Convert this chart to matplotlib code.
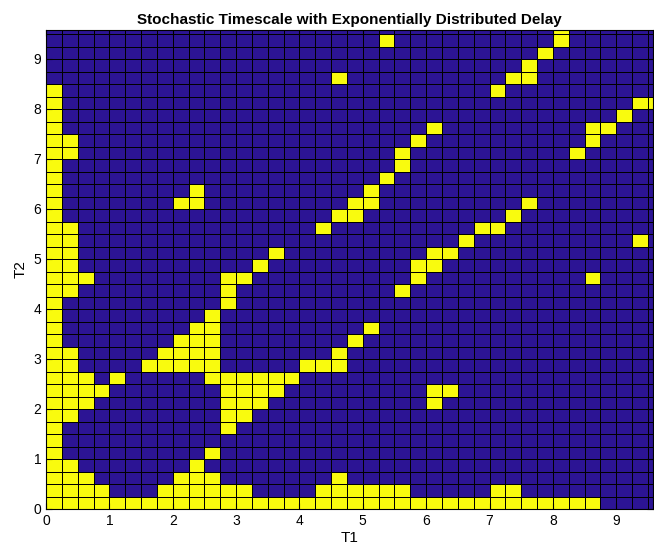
import numpy as np
import matplotlib
matplotlib.use('Agg')
import matplotlib.pyplot as plt
from matplotlib.colors import ListedColormap

plt.rcParams['font.family'] = ['Liberation Sans', 'DejaVu Sans']

# grid step and number of cells along each axis
t_step = 0.25
n_cells = 39
t_max = 9.58

# yellow (value 1) cells: column indices for each row, row 0 at the bottom
hits_by_row = [
    list(range(0, 35)),                                  # 0
    [0, 1, 2, 3, 7, 8, 9, 10, 11, 12, 17, 18, 19, 20, 21, 22, 28, 29],
    [0, 1, 2, 8, 9, 10, 18],
    [0, 1, 9],
    [0, 10],
    [0],                                                 # 5
    [0, 11],
    [0, 1, 11, 12],
    [0, 1, 2, 11, 12, 13, 24],
    [0, 1, 2, 3, 11, 12, 13, 14, 24, 25],
    [0, 1, 2, 4, 10, 11, 12, 13, 14, 15],                # 10
    [0, 1, 6, 7, 8, 9, 10, 16, 17, 18],
    [0, 1, 7, 8, 9, 10, 18],
    [0, 8, 9, 10, 19],
    [0, 9, 10, 20],
    [0, 10],                                             # 15
    [0, 11],
    [0, 1, 11, 22],
    [0, 1, 2, 11, 12, 23, 34],
    [0, 1, 13, 23, 24],
    [0, 1, 14, 24, 25],                                  # 20
    [0, 1, 26, 37],
    [0, 1, 17, 27, 28],
    [0, 18, 19, 29],
    [0, 8, 9, 19, 20, 30],
    [0, 9, 20],                                          # 25
    [0, 21],
    [0, 22],
    [0, 1, 22, 33],
    [0, 1, 23, 34],
    [0, 24, 34, 35],                                     # 30
    [0, 36],
    [0, 37, 38],
    [0, 28],
    [18, 29, 30],
    [30],                                                # 35
    [31],
    [21, 32],
    [32],
]

Z = np.zeros((n_cells, n_cells))
for r, cols in enumerate(hits_by_row):
    Z[r, cols] = 1

edges = np.arange(n_cells + 1) * t_step

fig = plt.figure(figsize=(6.54, 5.54), dpi=100)
ax = fig.add_axes([46 / 654, 45 / 554, 607 / 654, 479 / 554])

cmap = ListedColormap(['#2c1494', '#f9fb0e'])
ax.pcolormesh(edges, edges, Z, cmap=cmap, vmin=0, vmax=1,
              edgecolors='black', linewidth=0.7)

ax.set_xlim(0, t_max)
ax.set_ylim(0, t_max)
ax.set_xticks(range(10))
ax.set_yticks(range(10))
ax.tick_params(direction='in', length=4, labelsize=10, top=True, right=True)

ax.set_title('Stochastic Timescale with Exponentially Distributed Delay',
             fontsize=11, fontweight='bold', pad=4)
ax.set_xlabel('T1', fontsize=11, labelpad=2)
ax.set_ylabel('T2', fontsize=11, labelpad=4)

fig.savefig('out.png', dpi=100)
